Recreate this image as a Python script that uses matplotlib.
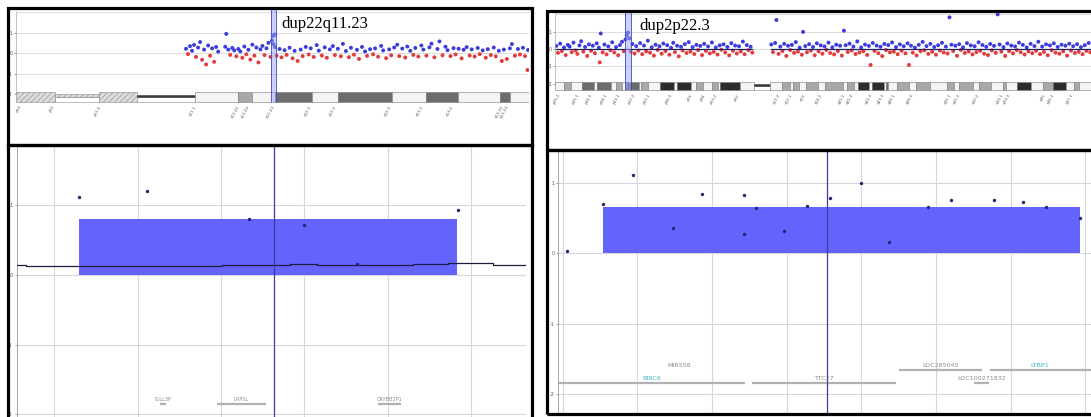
import matplotlib.pyplot as plt
from matplotlib.patches import Rectangle

# ---------------- chr22 overview (position in Mb, log2 ratio) ----------------
chr22_probes = [
    (16.9, 0.22), (17.1, -0.04), (17.3, 0.35), (17.5, 0.12), (17.7, 0.41), (17.9, -0.18), (18.1, 0.28),
    (18.3, 0.55), (18.5, -0.32), (18.7, 0.18), (18.9, -0.55), (19.1, 0.38), (19.3, -0.12), (19.5, 0.24),
    (19.7, -0.42), (19.9, 0.31), (20.1, 0.08), (20.8, 0.32), (20.9, 0.95), (21.1, 0.18), (21.3, -0.08),
    (21.5, 0.26), (21.7, 0.14), (21.9, -0.15), (22.1, 0.21), (22.3, 0.09), (22.5, -0.22), (22.7, 0.33),
    (22.9, -0.05), (23.1, 0.17), (23.3, -0.31), (23.5, 0.42), (23.7, -0.12), (23.9, 0.28), (24.1, -0.45),
    (24.3, 0.19), (24.5, 0.36), (24.7, -0.09), (24.9, 0.24), (25.1, 0.51), (25.3, -0.18), (25.45, 0.62),
    (25.55, 0.85), (25.6, 0.45), (25.7, 0.92), (25.75, 0.3), (25.9, -0.12), (26.2, 0.21), (26.4, -0.2),
    (26.7, 0.15), (26.9, -0.08), (27.2, 0.27), (27.5, -0.25), (27.7, 0.12), (28.0, -0.38), (28.3, 0.18),
    (28.5, -0.14), (28.8, 0.31), (29.1, -0.06), (29.3, 0.24), (29.6, -0.18), (29.9, 0.4), (30.1, 0.13),
    (30.4, -0.11), (30.7, 0.29), (30.9, -0.22), (31.2, 0.19), (31.5, 0.35), (31.7, -0.09), (32.0, 0.22),
    (32.3, -0.15), (32.5, 0.46), (32.8, 0.11), (33.1, -0.19), (33.3, 0.27), (33.6, -0.07), (33.9, 0.17),
    (34.1, -0.28), (34.4, 0.31), (34.7, 0.09), (34.9, -0.13), (35.2, 0.2), (35.5, -0.05), (35.7, 0.24),
    (36.0, -0.17), (36.3, 0.36), (36.5, 0.14), (36.8, -0.24), (37.1, 0.19), (37.3, -0.1), (37.6, 0.28),
    (37.9, 0.42), (38.1, -0.14), (38.4, 0.23), (38.7, -0.21), (38.9, 0.33), (39.2, 0.12), (39.5, -0.08),
    (39.7, 0.26), (40.0, -0.16), (40.3, 0.38), (40.5, 0.18), (40.8, -0.12), (41.1, 0.29), (41.3, 0.47),
    (41.6, -0.2), (41.9, 0.21), (42.1, 0.58), (42.4, -0.1), (42.7, 0.32), (42.9, 0.15), (43.2, -0.14),
    (43.5, 0.25), (43.7, -0.06), (44.0, 0.22), (44.3, -0.25), (44.5, 0.17), (44.8, 0.3), (45.1, -0.11),
    (45.3, 0.19), (45.6, -0.16), (45.9, 0.26), (46.1, -0.04), (46.4, 0.14), (46.7, -0.22), (46.9, 0.2),
    (47.2, -0.09), (47.5, 0.28), (47.7, -0.15), (48.0, 0.12), (48.3, -0.38), (48.5, 0.18), (48.8, -0.28),
    (49.1, 0.24), (49.3, 0.45), (49.6, -0.12), (49.9, 0.21), (50.1, -0.06), (50.4, 0.27), (50.6, -0.14),
    (50.85, -0.82), (50.9, 0.16),
]
# band start, end, stain (w/g/d/k, h = hatched, s = stalk, c = centromere)
chr22_bands = [
    (0.0, 3.9, 'h'), (3.9, 8.3, 's'), (8.3, 12.0, 'h'), (12.0, 17.8, 'c'), (17.8, 22.1, 'w'),
    (22.1, 23.5, 'g'), (23.5, 25.7, 'w'), (25.7, 29.4, 'd'), (29.4, 32.0, 'w'), (32.0, 37.4, 'd'),
    (37.4, 40.8, 'w'), (40.8, 43.9, 'd'), (43.9, 48.1, 'w'), (48.1, 49.1, 'd'), (49.1, 51.0, 'w'),
]
chr22_band_pos = [0.3, 3.6, 8.2, 17.7, 22.0, 23.0, 25.5, 29.1, 31.6, 37.1, 40.3, 43.3, 48.3, 48.8]
chr22_band_names = ['p13', 'p12', 'p11.2', 'q11.1', 'q11.21', 'q11.22', 'q11.23', 'q12.1',
                    'q12.2', 'q12.3', 'q13.1', 'q13.2', 'q13.31', 'q13.33']
chr22_dup = (25.4, 25.8)

# ---------------- chr2 overview ----------------
chr2_probes = [
    (0.4, 0.18), (1.2, -0.22), (2.2, 0.31), (3.0, -0.12), (4.0, 0.09), (4.8, -0.35), (5.8, 0.24), (6.6, 0.14),
    (7.6, -0.18), (8.4, 0.37), (9.4, -0.08), (10.2, -0.28), (11.2, 0.21), (12.0, 0.45), (13.0, -0.15),
    (13.8, 0.12), (14.8, -0.4), (15.6, 0.27), (16.6, -0.1), (17.4, 0.19), (18.4, -0.24), (19.2, 0.33),
    (20.2, 0.08), (20.6, -0.77), (21.1, 0.9), (22.0, -0.19), (22.8, 0.26), (23.8, -0.31), (24.6, 0.15),
    (25.6, -0.07), (26.4, 0.39), (27.4, -0.2), (28.2, 0.11), (29.2, -0.36), (30.0, 0.23), (31.0, 0.42),
    (31.8, -0.13), (32.6, 0.55), (33.2, 0.78), (33.8, 0.95), (34.4, 0.62), (35.0, -0.16), (35.8, 0.29),
    (36.8, -0.26), (37.6, 0.17), (38.6, -0.09), (39.4, 0.34), (40.4, -0.3), (41.2, 0.2), (42.2, -0.14),
    (43.0, 0.48), (44.0, -0.21), (44.8, 0.1), (45.8, -0.38), (46.6, 0.25), (47.6, -0.05), (48.4, 0.16),
    (49.4, -0.27), (50.2, 0.32), (51.2, -0.12), (52.0, 0.22), (53.0, -0.33), (53.8, 0.07), (54.8, 0.36),
    (55.6, -0.18), (56.6, 0.19), (57.4, -0.42), (58.4, 0.13), (59.2, -0.08), (60.2, 0.28), (61.0, -0.23),
    (62.0, 0.4), (62.8, -0.15), (63.8, 0.11), (64.6, -0.29), (65.6, 0.24), (66.4, -0.06), (67.4, 0.18),
    (68.2, -0.35), (69.2, 0.3), (70.0, -0.11), (71.0, 0.15), (71.8, -0.25), (72.8, 0.38), (73.6, -0.17),
    (74.6, 0.09), (75.4, -0.32), (76.4, 0.21), (77.2, -0.04), (78.2, 0.27), (79.0, -0.2), (80.0, 0.12),
    (80.8, -0.37), (81.8, 0.34), (82.6, -0.1), (83.6, 0.2), (84.4, -0.26), (85.4, 0.16), (86.2, -0.14),
    (87.2, 0.43), (88.0, -0.3), (89.0, 0.23), (89.8, -0.07), (90.8, 0.13), (91.6, -0.21),
    (100.4, 0.26), (101.2, -0.18), (102.2, 0.35), (102.8, 1.68), (103.8, -0.28), (104.6, 0.14),
    (105.6, -0.12), (106.4, 0.3), (107.4, -0.4), (108.2, 0.19), (109.2, -0.06), (110.0, 0.24),
    (111.0, -0.22), (111.8, 0.4), (112.8, -0.15), (113.6, 0.08), (114.6, -0.33), (115.2, 0.99),
    (116.2, 0.17), (117.0, -0.19), (118.0, 0.28), (118.8, -0.09), (119.8, 0.12), (120.6, -0.36),
    (121.6, 0.33), (122.4, -0.14), (123.4, 0.21), (124.2, -0.27), (125.2, 0.15), (126.0, -0.05),
    (127.0, 0.37), (127.8, -0.23), (128.8, 0.1), (129.6, -0.31), (130.6, 0.25), (131.4, -0.12),
    (132.4, 0.19), (133.2, -0.38), (134.2, 1.06), (135.0, 0.22), (136.0, -0.17), (136.8, 0.31),
    (137.8, -0.08), (138.6, 0.14), (139.6, -0.29), (140.4, 0.44), (141.4, -0.2), (142.2, 0.09),
    (143.2, -0.13), (144.0, 0.26), (145.0, -0.34), (145.8, 0.18), (146.6, -0.92), (147.6, 0.35),
    (148.4, -0.11), (149.4, 0.2), (150.2, -0.24), (151.2, 0.13), (152.0, -0.41), (153.0, 0.29),
    (153.8, -0.06), (154.8, 0.23), (155.6, -0.19), (156.6, 0.38), (157.4, -0.15), (158.4, 0.11),
    (159.2, -0.3), (160.2, 0.27), (161.0, -0.1), (162.0, 0.16), (162.8, -0.25), (163.8, 0.33),
    (164.4, -0.92), (165.4, 0.19), (166.2, -0.21), (167.2, 0.08), (168.0, -0.37), (169.0, 0.24),
    (169.8, -0.13), (170.8, 0.41), (171.6, -0.07), (172.6, 0.17), (173.4, -0.28), (174.4, 0.3),
    (175.2, -0.16), (176.2, 0.12), (177.0, -0.33), (178.0, 0.22), (178.8, -0.09), (179.8, 0.36),
    (180.6, -0.2), (181.6, 0.14), (182.4, -0.26), (183.3, 1.83), (184.2, 0.25), (185.0, -0.12),
    (186.0, 0.19), (186.8, -0.39), (187.8, 0.28), (188.6, -0.05), (189.6, 0.1), (190.4, -0.23),
    (191.4, 0.34), (192.2, -0.14), (193.2, 0.21), (194.0, -0.31), (195.0, 0.16), (195.8, -0.18),
    (196.8, 0.39), (197.6, -0.1), (198.6, 0.23), (199.4, -0.27), (200.4, 0.13), (201.2, -0.35),
    (202.2, 0.29), (203.0, -0.08), (204.0, 0.18), (204.8, -0.22), (205.7, 2.0), (206.6, 0.26),
    (207.4, -0.15), (208.4, 0.11), (209.2, -0.4), (210.2, 0.32), (211.0, -0.12), (212.0, 0.2),
    (212.8, -0.25), (213.8, 0.15), (214.6, -0.06), (215.6, 0.37), (216.4, -0.19), (217.4, 0.24),
    (218.2, -0.32), (219.2, 0.09), (220.0, -0.14), (221.0, 0.3), (221.8, -0.24), (222.8, 0.17),
    (223.6, -0.1), (224.6, 0.42), (225.4, -0.29), (226.4, 0.14), (227.2, -0.17), (228.2, 0.27),
    (229.0, -0.36), (230.0, 0.21), (230.8, -0.07), (231.8, 0.33), (232.6, -0.21), (233.6, 0.12),
    (234.4, -0.27), (235.4, 0.25), (236.2, -0.13), (237.2, 0.19), (238.0, -0.38), (239.0, 0.31),
    (239.8, -0.09), (240.8, 0.16), (241.6, -0.23), (242.6, 0.28), (243.4, -0.16), (244.4, 0.11),
    (245.2, -0.3), (246.2, 0.22), (247.0, -0.11), (248.0, 0.35), (248.8, -0.19),
]
chr2_avg = [(0.4, 91.6, 0.02), (100.4, 248.8, 0.02)]
chr2_bands = [
    (0.0, 4.07, 'w'), (4.07, 7.3, 'g'), (7.3, 12.2, 'w'), (12.2, 17.8, 'd'), (17.8, 19.4, 'w'),
    (19.4, 25.9, 'd'), (25.9, 28.4, 'w'), (28.4, 30.8, 'g'), (30.8, 32.7, 'w'), (32.7, 38.9, 'd'),
    (38.9, 39.7, 'w'), (39.7, 42.9, 'g'), (42.9, 48.6, 'w'), (48.6, 55.1, 'k'), (55.1, 56.4, 'w'),
    (56.4, 63.2, 'k'), (63.2, 65.6, 'w'), (65.6, 68.8, 'g'), (68.8, 72.9, 'w'), (72.9, 75.6, 'g'),
    (75.6, 76.6, 'w'), (76.6, 85.8, 'k'), (85.8, 92.3, 'w'), (92.3, 99.6, 'c'), (99.6, 105.3, 'w'),
    (105.3, 109.3, 'g'), (109.3, 110.5, 'w'), (110.5, 113.4, 'g'), (113.4, 116.6, 'w'), (116.6, 122.3, 'g'),
    (122.3, 125.5, 'w'), (125.5, 133.6, 'g'), (133.6, 135.7, 'w'), (135.7, 139.0, 'g'), (139.0, 140.6, 'w'),
    (140.6, 145.8, 'k'), (145.8, 147.4, 'w'), (147.4, 152.6, 'k'), (152.6, 153.9, 'w'), (153.9, 154.7, 'd'),
    (154.7, 158.7, 'w'), (158.7, 164.4, 'g'), (164.4, 167.6, 'w'), (167.6, 174.1, 'g'), (174.1, 182.2, 'w'),
    (182.2, 185.5, 'g'), (185.5, 187.9, 'w'), (187.9, 194.4, 'g'), (194.4, 196.8, 'w'), (196.8, 202.4, 'g'),
    (202.4, 208.1, 'w'), (208.1, 209.7, 'g'), (209.7, 214.6, 'w'), (214.6, 221.1, 'k'), (221.1, 226.7, 'w'),
    (226.7, 231.6, 'g'), (231.6, 237.3, 'k'), (237.3, 241.3, 'w'), (241.3, 243.7, 'g'), (243.7, 249.1, 'w'),
]
chr2_band_pos = [1.2, 10.1, 16.1, 23.0, 29.0, 36.0, 42.9, 53.3, 62.5, 68.5, 74.2, 84.4, 103.5, 109.0, 115.2,
                 123.1, 133.6, 137.7, 146.6, 152.2, 157.1, 165.2, 183.0, 187.1, 196.0, 207.3, 210.5,
                 226.7, 230.8, 239.7]
chr2_band_names = ['p25.3', 'p25.1', 'p24.3', 'p24.1', 'p23.1', 'p22.3', 'p22.1', 'p16.3', 'p15', 'p14',
                   'p13.2', 'p12', 'q11.2', 'q12.1', 'q13', 'q14.2', 'q21.1', 'q21.3', 'q22.3', 'q23.3',
                   'q24.1', 'q24.3', 'q31.1', 'q31.3', 'q32.2', 'q33.1', 'q33.3', 'q35', 'q36.1', 'q37.1']
chr2_dup = (32.4, 35.2)

# ---------------- zoomed 22q11.23 region (kb) ----------------
z22_x = [64.5, 105.3, 166.8, 199.5, 231.6, 292.2]
z22_y = [1.12, 1.20, 0.80, 0.72, 0.157, 0.93]
z22_call = (64.5, 291.6, 0.80)
z22_avg_x = [27.25, 32.8, 150.7, 191.4, 207.5, 265.4, 286.1, 312.9, 333.0]
z22_avg_y = [0.137, 0.123, 0.142, 0.156, 0.142, 0.161, 0.171, 0.147, 0.147]
z22_cursor = 181.7
z22_genes = ['IGLL3P', 'LRP5L', 'CRYBB2P1']
z22_gene_start = [113.3, 147.3, 244.2]
z22_gene_end = [116.9, 177.0, 257.9]
z22_gene_row = [0, 0, 0]

# ---------------- zoomed 2p22.3 region (kb) ----------------
z2_x = [2.9, 27.1, 47.2, 73.8, 93.3, 121.5, 121.5, 129.4, 148.1, 163.7, 179.1, 199.6, 218.5, 244.4,
        260.2, 288.6, 307.9, 323.8, 346.6]
z2_y = [0.037, 0.70, 1.11, 0.36, 0.845, 0.83, 0.28, 0.64, 0.31, 0.665, 0.79, 1.00, 0.155, 0.655,
        0.76, 0.755, 0.73, 0.655, 0.50]
z2_call = (27.1, 346.2, 0.656)
z2_cursor = 177.0
z2_genes = ['MIR558', 'BIRC6', 'TTC27', 'LOC285045', 'LOC100271832', 'LTBP1']
z2_gene_start = [77.7, -20.0, 126.4, 225.0, 275.6, 285.8]
z2_gene_end = [78.1, 121.7, 222.9, 280.7, 285.4, 420.0]
z2_gene_row = [1, 0, 0, 1, 0, 1]

W, H = 1091, 417
BLUE = '#3c3cdc'
RED = '#e63a3a'
SHADES = {'w': '#f4f4f4', 'g': '#a8a8a8', 'd': '#6c6c6c', 'k': '#2c2c2c'}
TEAL = {'BIRC6', 'LTBP1'}

plt.rcParams['hatch.linewidth'] = 0.4


def px_box(x0, y0, x1, y1):
    # pixel box (top-left origin) -> figure fraction
    return [x0 / W, 1 - y1 / H, (x1 - x0) / W, (y1 - y0) / H]


def overview(ax, probes, bands, band_pos, band_names, dup, xmax, ylim, ideo, lab_off, title, title_xy):
    ax.set_xlim(0, xmax)
    ax.set_ylim(*ylim)
    for v in (2, 1, 0, -1):
        ax.axhline(v, color='#dcdcdc', lw=0.7, zorder=0)
    xs = [p[0] for p in probes]
    ys = [p[1] for p in probes]
    ax.scatter(xs, ys, s=8, c=[BLUE if y >= 0 else RED for y in ys], linewidths=0, zorder=2)

    top, bot = ideo
    hgt = top - bot
    for start, end, kind in bands:
        w = end - start
        if kind in SHADES:
            ax.add_patch(Rectangle((start, bot), w, hgt, facecolor=SHADES[kind],
                                   edgecolor='#7a7a7a', lw=0.4, zorder=3))
        elif kind == 'h':
            ax.add_patch(Rectangle((start, bot), w, hgt, facecolor='#dcdcdc', hatch='//////',
                                   edgecolor='#8a8a8a', lw=0.4, zorder=3))
        elif kind == 's':
            ax.add_patch(Rectangle((start, bot), w, hgt * 0.55, facecolor='white',
                                   edgecolor='#8a8a8a', lw=0.4, zorder=3))
            ax.add_patch(Rectangle((start, bot + hgt * 0.55), w, hgt * 0.25, facecolor='#dcdcdc',
                                   hatch='//////', edgecolor='#8a8a8a', lw=0.4, zorder=3))
        else:  # centromere
            ax.add_patch(Rectangle((start, bot), w, hgt * 0.5, facecolor='white',
                                   edgecolor='#8a8a8a', lw=0.4, zorder=3))
            ax.add_patch(Rectangle((start, bot + hgt * 0.5), w, hgt * 0.2, facecolor='#3a3a3a',
                                   edgecolor='#3a3a3a', lw=0.4, zorder=3))
    for x, name in zip(band_pos, band_names):
        ax.text(x, bot - lab_off, name, rotation=60, rotation_mode='anchor', ha='right', va='top',
                fontsize=3, color='#555555')

    ax.fill_betweenx([bot, ylim[1]], dup[0], dup[1], color='#9aa4f2', alpha=0.5, lw=0, zorder=4)
    ax.vlines(dup, bot, ylim[1], color='#3a46c8', lw=0.6, zorder=4)
    ax.text(title_xy[0], title_xy[1], title, family='Liberation Serif', fontsize=12,
            ha='left', va='center', zorder=5)

    for side in ('top', 'right', 'bottom'):
        ax.spines[side].set_visible(False)
    ax.spines['left'].set_color('#aaaaaa')
    ax.spines['left'].set_linewidth(0.5)
    ax.spines['left'].set_bounds(-2, 2)
    ax.set_xticks([])
    ax.set_yticks([1, 0, -1, -2])
    ax.set_yticklabels(['1', '0', '-1', '-2'])
    ax.tick_params(axis='y', labelsize=3.3, length=1.5, width=0.4, pad=1, colors='#555555')


def detail(ax, px, py, call, avg, cursor, genes, gstart, gend, grow, xlim, ylim, grid_x,
           label_y, bar_y, gsize):
    ax.set_xlim(*xlim)
    ax.set_ylim(*ylim)
    ax.set_xticks(grid_x)
    ax.set_yticks([1, 0, -1, -2])
    ax.set_yticklabels(['1', '0', '-1', '-2'])
    ax.grid(True, color='#d6d6e2', lw=0.8)
    ax.set_axisbelow(True)
    ax.tick_params(axis='x', length=0, labelbottom=False)
    ax.tick_params(axis='y', labelsize=3.6, length=1.5, width=0.4, pad=1, colors='#555555')
    for side in ('top', 'right', 'bottom'):
        ax.spines[side].set_visible(False)
    ax.spines['left'].set_color('#9a9a9a')
    ax.spines['left'].set_linewidth(0.6)

    ax.fill_between([call[0], call[1]], 0, call[2], color='#6464fc', lw=0, zorder=2)
    if avg is not None:
        ax.plot(avg[0], avg[1], drawstyle='steps-post', color='#1c1c40', lw=0.9, zorder=3)
    ax.axvline(cursor, color='#3e3e9a', lw=0.9, zorder=3)
    ax.scatter(px, py, s=6, color='#262670', linewidths=0, zorder=4)

    x0, x1 = xlim
    for name, s, e, r in zip(genes, gstart, gend, grow):
        ax.plot([s, e], [bar_y[r], bar_y[r]], color='#b2b2b2', lw=1.6, solid_capstyle='butt', zorder=2)
        cx = (max(s, x0) + min(e, x1)) / 2
        ax.text(cx, label_y[r], name, ha='center', va='center', fontsize=gsize,
                color='#3cb6c0' if name in TEAL else '#8c8c8c', zorder=5)


fig = plt.figure(figsize=(W / 100, H / 100), dpi=100)

ax_tl = fig.add_axes(px_box(16, 9, 529, 143))
overview(ax_tl, chr22_probes, chr22_bands, chr22_band_pos, chr22_band_names, chr22_dup,
         51.0, (-4.40, 2.17), (-1.92, -2.40), 0.12, 'dup22q11.23', (26.4, 1.44))

ax_tr = fig.add_axes(px_box(555.4, 12, 1091, 148))
overview(ax_tr, chr2_probes, chr2_bands, chr2_band_pos, chr2_band_names, chr2_dup,
         249.1, (-5.72, 2.14), (-1.89, -2.36), 0.2, 'dup2p22.3', (38.9, 1.33))
for a, b, lvl in chr2_avg:
    ax_tr.plot([a, b], [lvl, lvl], color='#20206a', lw=0.9, zorder=3)

ax_bl = fig.add_axes(px_box(16.5, 147, 526, 417))
detail(ax_bl, z22_x, z22_y, z22_call, (z22_avg_x, z22_avg_y), z22_cursor, z22_genes,
       z22_gene_start, z22_gene_end, z22_gene_row, (27.25, 333.0), (-2.04, 1.835),
       [50, 100, 150, 200, 250, 300], [-1.79], [-1.85], 3.6)

ax_br = fig.add_axes(px_box(558.2, 151, 1091, 412.5))
detail(ax_br, z2_x, z2_y, z2_call, None, z2_cursor, z2_genes, z2_gene_start, z2_gene_end,
       z2_gene_row, (-3.1, 353.7), (-2.255, 1.449), [0, 50, 100, 150, 200, 250, 300, 350],
       [-1.78, -1.59], [-1.84, -1.65], 4.6)

# black panel frames
for x0, y0, x1, y1 in [(7.5, 7.5, 531.5, 145), (7.5, 145, 531.5, 430),
                       (547, 10.5, 1110, 149.7), (547, 149.7, 1110, 414)]:
    fig.add_artist(Rectangle((x0 / W, 1 - y1 / H), (x1 - x0) / W, (y1 - y0) / H, fill=False,
                             edgecolor='black', lw=2.3, transform=fig.transFigure, zorder=10))

plt.savefig('out.png', dpi=100)
